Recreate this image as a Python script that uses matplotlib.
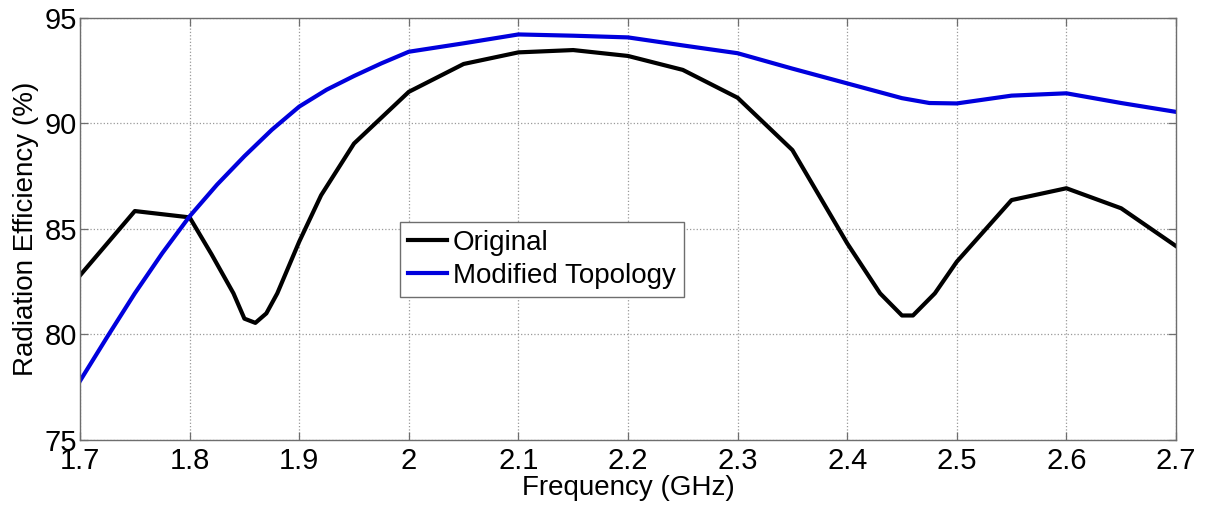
import numpy as np
import matplotlib.pyplot as plt

plt.rcParams['font.family'] = ['Liberation Sans', 'DejaVu Sans']

# Original antenna
f_orig = [1.70, 1.75, 1.80, 1.82, 1.84, 1.85, 1.86, 1.87, 1.88, 1.90, 1.92, 1.95,
          2.00, 2.05, 2.10, 2.15, 2.20, 2.25, 2.30, 2.35, 2.40, 2.43, 2.45, 2.46,
          2.48, 2.50, 2.55, 2.60, 2.65, 2.70]
eff_orig = [82.8, 85.85, 85.55, 83.8, 81.95, 80.75, 80.55, 81.0, 81.95, 84.4, 86.6, 89.05,
            91.5, 92.82, 93.37, 93.48, 93.2, 92.54, 91.22, 88.74, 84.32, 81.95, 80.9, 80.9,
            81.95, 83.45, 86.37, 86.93, 85.98, 84.19]

# Modified topology
f_mod = [1.70, 1.725, 1.75, 1.775, 1.80, 1.825, 1.85, 1.875, 1.90, 1.925, 1.95, 1.975,
         2.00, 2.05, 2.10, 2.15, 2.20, 2.25, 2.30, 2.35, 2.40, 2.425, 2.45, 2.475,
         2.50, 2.55, 2.60, 2.65, 2.70]
eff_mod = [77.8, 79.9, 81.95, 83.85, 85.6, 87.1, 88.45, 89.7, 90.8, 91.6, 92.25, 92.85,
           93.4, 93.8, 94.22, 94.16, 94.08, 93.7, 93.33, 92.6, 91.9, 91.55, 91.2, 90.97,
           90.95, 91.32, 91.43, 90.97, 90.55]

fig = plt.figure(figsize=(12.07, 5.08), dpi=100)
ax = fig.add_axes([0.0663, 0.1339, 0.9080, 0.8307])

ax.plot(f_orig, eff_orig, color='black', lw=3.0, label='Original')
ax.plot(f_mod, eff_mod, color='#0000dd', lw=3.0, label='Modified Topology')

ax.set_xlim(1.7, 2.7)
ax.set_ylim(75, 95)
ax.set_xticks(np.round(np.arange(1.7, 2.71, 0.1), 1))
ax.set_xticklabels(['1.7', '1.8', '1.9', '2', '2.1', '2.2', '2.3', '2.4', '2.5', '2.6', '2.7'])
ax.set_yticks([75, 80, 85, 90, 95])

ax.grid(True, linestyle=':', color='#999999', lw=0.9)
for s in ax.spines.values():
    s.set_color('#6e6e6e')
    s.set_linewidth(1.0)
ax.tick_params(direction='in', length=6, width=0.9, color='#6e6e6e',
               top=True, right=True, labelsize=21)
ax.tick_params(axis='x', pad=5)
ax.tick_params(axis='y', pad=2)

ax.set_xlabel('Frequency (GHz)', fontsize=20, labelpad=0)
ax.set_ylabel('Radiation Efficiency (%)', fontsize=20, labelpad=4)

leg = ax.legend(loc='upper left', bbox_to_anchor=(0.292, 0.517), borderaxespad=0,
                fontsize=20, handlelength=1.4, handletextpad=0.2, fancybox=False,
                framealpha=1, borderpad=0.3, labelspacing=0.25)
leg.get_frame().set_edgecolor('#6e6e6e')
leg.get_frame().set_linewidth(1.0)

fig.savefig('out.png', dpi=100)
